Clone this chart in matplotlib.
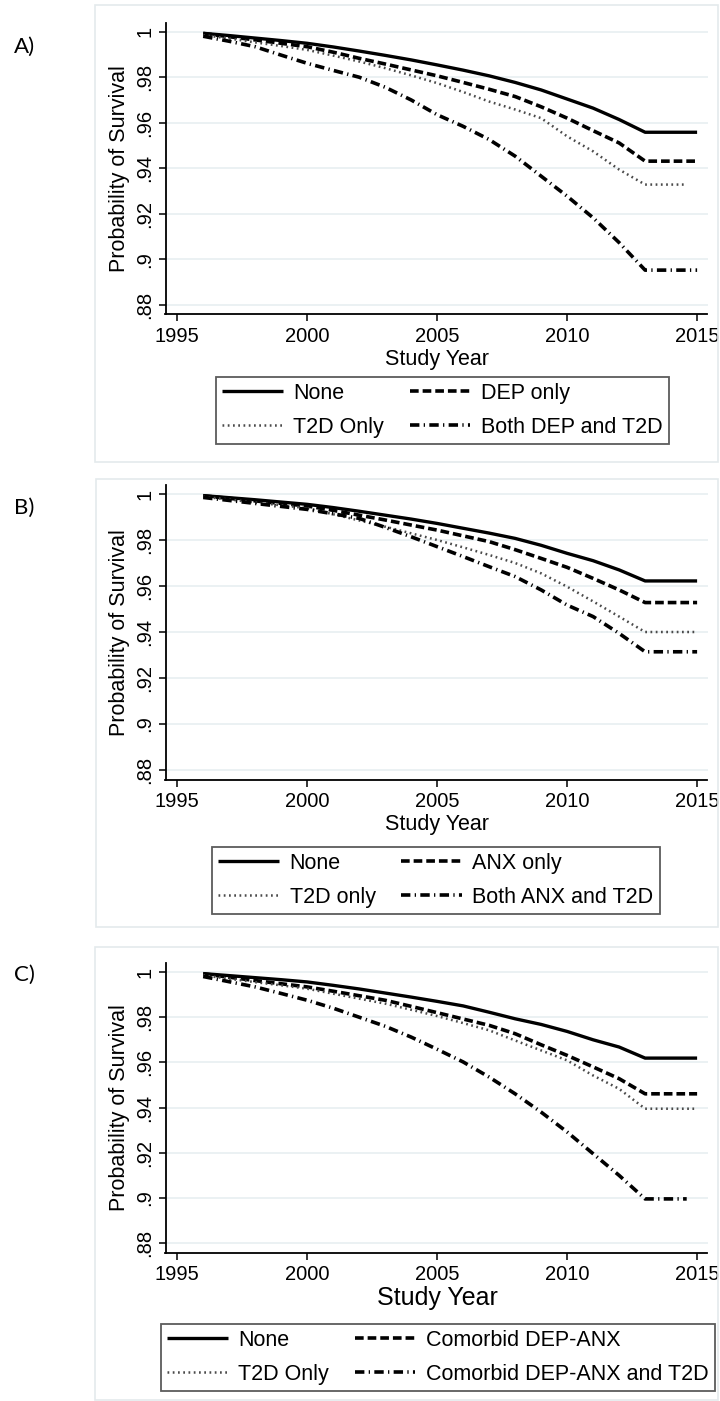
import matplotlib.pyplot as plt
from matplotlib.patches import Rectangle

plt.rcParams['font.family'] = ['Liberation Sans', 'DejaVu Sans']

W, H = 720, 1401
fig = plt.figure(figsize=(W / 100, H / 100), dpi=100)

years = [1996, 1997, 1998, 1999, 2000, 2001, 2002, 2003, 2004,
         2005, 2006, 2007, 2008, 2009, 2010, 2011, 2012, 2013]

# A) depression / diabetes
a_labels = ['None', 'DEP only', 'T2D Only', 'Both DEP and T2D']
a_none = [.9993, .9983, .9972, .9961, .9949, .9933, .9915, .9896, .9876,
          .9854, .9831, .9806, .9777, .9744, .9704, .9664, .9614, .9558]
a_dep = [.9992, .9978, .9964, .9949, .9934, .9910, .9883, .9858, .9832,
         .9806, .9777, .9747, .9715, .9670, .9620, .9565, .9511, .9431]
a_t2d = [.9985, .9970, .9953, .9937, .9920, .9895, .9869, .9840, .9808,
         .9774, .9735, .9693, .9658, .9620, .9540, .9474, .9394, .9328]
a_both = [.9980, .9958, .9934, .9897, .9861, .9830, .9800, .9756, .9700,
          .9635, .9584, .9526, .9453, .9365, .9277, .9182, .9073, .8952]
a_end = [2015, 2015, 2014.5, 2015]

# B) anxiety / diabetes
b_labels = ['None', 'ANX only', 'T2D only', 'Both ANX and T2D']
b_none = [.9993, .9984, .9975, .9965, .9955, .9941, .9925, .9908, .9891,
          .9872, .9851, .9830, .9807, .9777, .9742, .9710, .9670, .9622]
b_anx = [.9992, .9981, .9970, .9959, .9948, .9929, .9908, .9887, .9865,
         .9843, .9818, .9793, .9758, .9720, .9681, .9633, .9583, .9528]
b_t2d = [.9988, .9976, .9963, .9951, .9938, .9912, .9885, .9858, .9829,
         .9800, .9768, .9735, .9700, .9655, .9597, .9533, .9467, .9400]
b_both = [.9985, .9972, .9959, .9946, .9933, .9914, .9894, .9855, .9814,
          .9771, .9728, .9684, .9641, .9583, .9517, .9467, .9394, .9314]
b_end = [2015, 2015, 2015, 2015]

# C) comorbid depression-anxiety / diabetes
c_labels = ['None', 'Comorbid DEP-ANX', 'T2D Only', 'Comorbid DEP-ANX and T2D']
c_none = [.9993, .9984, .9975, .9966, .9956, .9941, .9925, .9907, .9889,
          .9870, .9850, .9822, .9793, .9768, .9737, .9700, .9668, .9619]
c_da = [.9992, .9977, .9962, .9948, .9934, .9915, .9895, .9875, .9848,
        .9820, .9792, .9764, .9727, .9678, .9631, .9580, .9528, .9461]
c_t2d = [.9985, .9970, .9955, .9941, .9926, .9904, .9882, .9860, .9833,
         .9805, .9774, .9742, .9697, .9653, .9609, .9542, .9483, .9395]
c_both = [.9980, .9957, .9934, .9905, .9875, .9840, .9800, .9760, .9712,
          .9658, .9602, .9535, .9461, .9380, .9292, .9196, .9100, .8996]
c_end = [2015, 2015, 2015, 2014.6]

xticks = [1995, 2000, 2005, 2010, 2015]
yticks = [.88, .90, .92, .94, .96, .98, 1.0]
ytick_labels = ['.88', '.9', '.92', '.94', '.96', '.98', '1']

styles = [
    dict(color='black', lw=2.4, ls='-'),
    dict(color='black', lw=2.6, dashes=(2.4, 1.1)),
    dict(color='#4a4a4a', lw=1.8, dashes=(0.7, 1.4)),
    dict(color='black', lw=2.6, dashes=(2.6, 1.2, 0.35, 1.2)),
]

frame_col = '#e4eaec'
grid_col = '#e6eef0'


def px_axes(left, top, right, bottom):
    return fig.add_axes([left / W, 1 - bottom / H, (right - left) / W, (bottom - top) / H])


def panel(letter, letter_y, series, ends, labels, frame, y_one, y_step, leg_box, xlab_size):
    # light outer frame of the panel
    fx0, fy0, fx1, fy1 = frame
    fig.patches.append(Rectangle((fx0 / W, 1 - fy1 / H), (fx1 - fx0) / W, (fy1 - fy0) / H,
                                 transform=fig.transFigure, fill=False,
                                 edgecolor=frame_col, lw=1.2))
    fig.text(24 / W, 1 - letter_y / H, letter, fontsize=16, family='Lato',
             ha='center', va='center')

    ylo, yhi = 0.8758, 1.004
    top = y_one - (yhi - 1.0) / 0.02 * y_step
    bottom = y_one + (1.0 - ylo) / 0.02 * y_step
    ax = px_axes(165.5, top, 707.5, bottom)
    ax.set_xlim(1994.55, 2015.4)
    ax.set_ylim(ylo, yhi)

    for vals, end, st in zip(series, ends, styles):
        ax.plot(years + [end], vals + [vals[-1]], solid_capstyle='butt',
                dash_capstyle='butt', **st)

    for y in yticks:
        ax.axhline(y, color=grid_col, lw=1.1, zorder=0)

    ax.set_xticks(xticks)
    ax.set_yticks(yticks)
    ax.set_yticklabels(ytick_labels, rotation=90, va='center')
    ax.tick_params(axis='both', direction='out', length=5, width=1.1,
                   labelsize=14.5)
    ax.tick_params(axis='x', pad=4)
    ax.tick_params(axis='y', pad=3)
    for s in ['top', 'right']:
        ax.spines[s].set_visible(False)
    for s in ['left', 'bottom']:
        ax.spines[s].set_linewidth(1.3)

    fig.text(120 / W, 1 - (top + bottom) / 2 / H, 'Probability of Survival',
             rotation=90, fontsize=15.5, ha='center', va='center')
    fig.text(437 / W, 1 - (bottom + 45) / H, 'Study Year', fontsize=xlab_size,
             ha='center', va='center')

    lines = ax.get_lines()
    order = [0, 2, 1, 3]
    lx0, ly0, lx1 = leg_box
    leg = fig.legend([lines[i] for i in order], [labels[i] for i in order],
                     ncol=2, loc='upper center',
                     bbox_to_anchor=((lx0 + lx1) / 2 / W, 1 - ly0 / H),
                     frameon=True, fancybox=False, fontsize=15.5,
                     handlelength=2.8, handletextpad=0.5, columnspacing=1.2,
                     borderpad=0.28, labelspacing=0.6, borderaxespad=0)
    leg.get_frame().set_edgecolor('#333333')
    leg.get_frame().set_linewidth(1.3)
    return ax


panel('A)', 47, [a_none, a_dep, a_t2d, a_both], a_end, a_labels,
      (95, 5, 718, 462), 31.7, 45.5, (210, 377, 675), 15.5)
panel('B)', 508, [b_none, b_anx, b_t2d, b_both], b_end, b_labels,
      (96, 479, 718, 927), 494.0, 46.0, (208, 847, 664), 15.5)
panel('C)', 975, [c_none, c_da, c_t2d, c_both], c_end, c_labels,
      (95, 947, 718, 1400), 972.0, 45.2, (172, 1324, 704), 18)

fig.savefig('out.png', dpi=100)
